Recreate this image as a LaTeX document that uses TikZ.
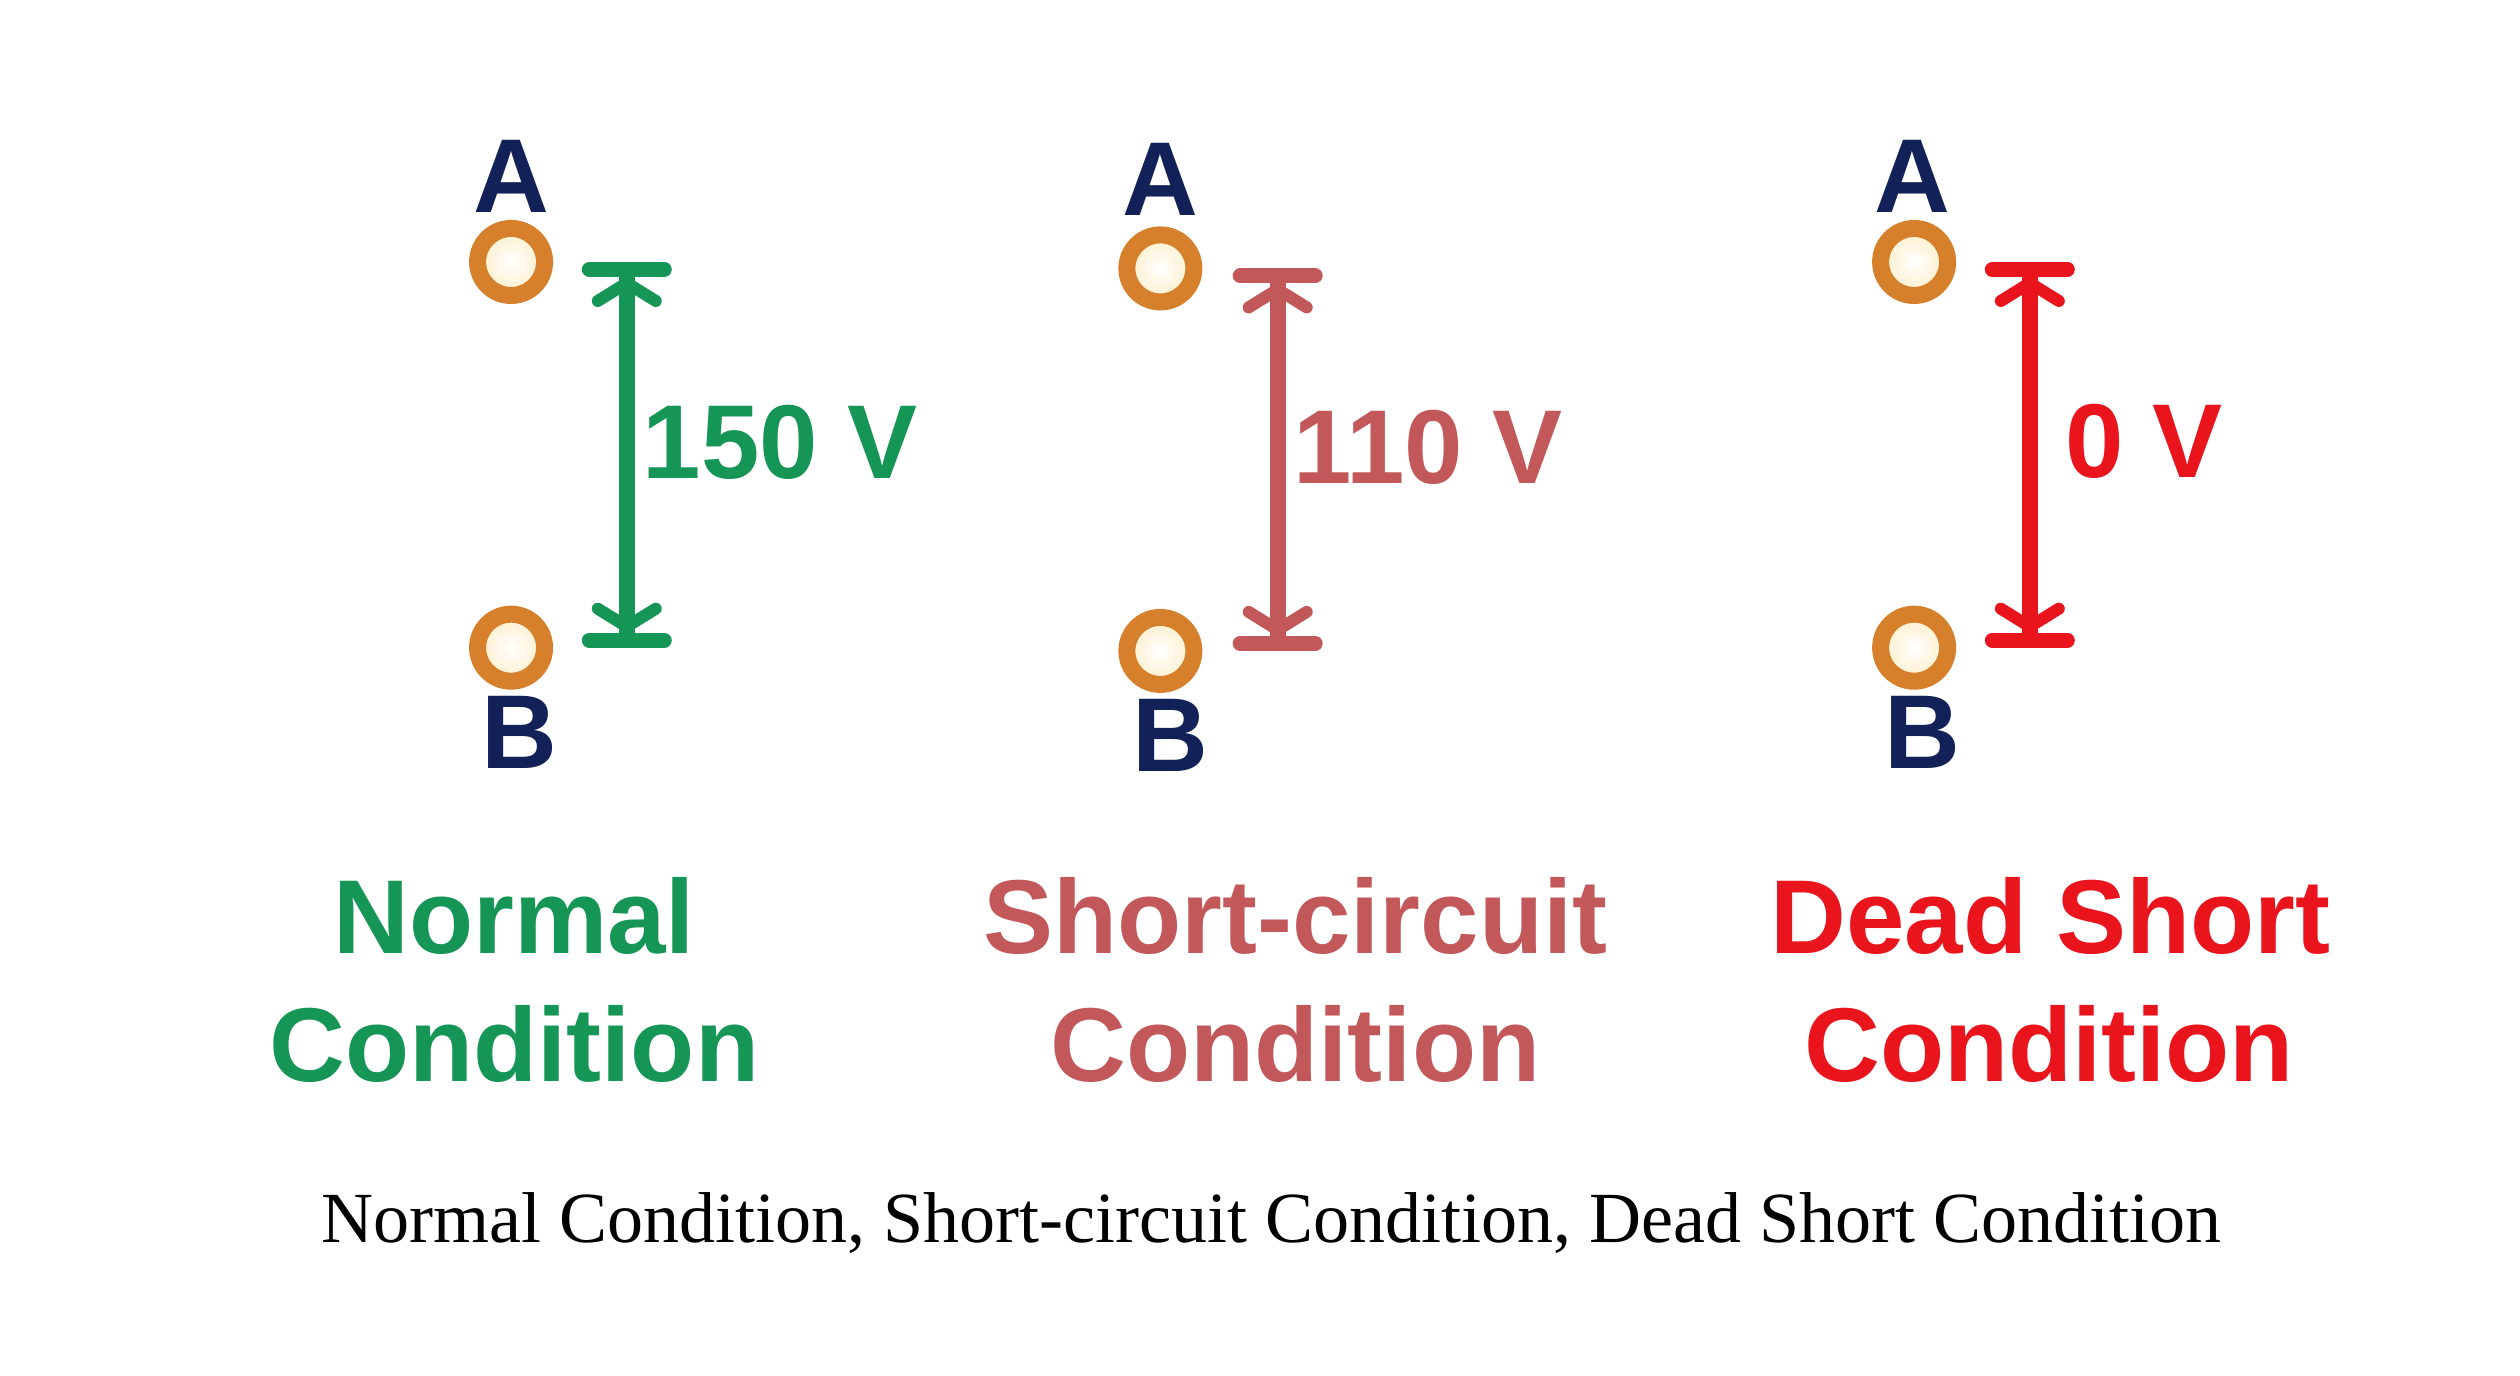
\documentclass[tikz,border=0pt]{standalone}
\usepackage{fontspec}
\setmainfont{Liberation Serif}
\newfontfamily\sansfam{Liberation Sans}
\usetikzlibrary{arrows.meta,positioning}

\definecolor{pinblue}{RGB}{18,33,88}
\definecolor{termring}{RGB}{214,128,44}
\definecolor{termglow}{RGB}{255,238,200}
\definecolor{normalgreen}{RGB}{22,150,86}
\definecolor{shortred}{RGB}{194,88,90}
\definecolor{deadred}{RGB}{234,20,28}

\newcommand{\lblfont}{\sansfam\bfseries\fontsize{105}{126}\selectfont}

\tikzset{
  bartip/.tip={Bar[width=75pt,line width=15pt,round]},
  barbtip/.tip={Straight Barb[length=18pt,width=58pt,line width=12pt,round]}
}

\begin{document}
\begin{tikzpicture}[x=1.6071pt, y=-1.6071pt,
    every node/.style={inner sep=0pt, outer sep=0pt},
    term/.style={circle, draw=termring, line width=17pt, minimum size=67pt,
      shade, shading=radial, inner color=white, outer color=termglow},
    pin/.style={font=\lblfont, text=pinblue, anchor=base},
    volt/.style={line width=16pt, arrows={bartip[]barbtip[]}-{barbtip[]bartip[]}},
    val/.style={font=\lblfont, anchor=base west},
    cond/.style={font=\lblfont, anchor=base}]

  \path[use as bounding box, fill=white] (0,0) rectangle (1568,856);

  % Normal condition (left)
  \node[pin] (a1) at (318,132) {A};
  \node[term] (ta1) at (318,163) {};
  \node[term] (tb1) at (318,403) {};
  \node[pin] (b1) at (323,478) {B};
  \coordinate (p1) at (390,163);
  \coordinate (q1) at (390,403);
  \draw[volt, normalgreen] (p1) -- (q1);
  \node[val, text=normalgreen] (v1) at (400,298) {150 V};
  \node[cond, text=normalgreen] (n1) at (320,593) {Normal};
  \node[cond, text=normalgreen] (c1) at (320,673) {Condition};

  % Short-circuit condition (middle)
  \node[pin] (a2) at (722,134) {A};
  \node[term] (ta2) at (722,167) {};
  \node[term] (tb2) at (722,405) {};
  \node[pin] (b2) at (728,480) {B};
  \coordinate (p2) at (795,167);
  \coordinate (q2) at (795,405);
  \draw[volt, shortred] (p2) -- (q2);
  \node[val, text=shortred] (v2) at (805,301) {110 V};
  \node[cond, text=shortred] (n2) at (806,593) {Short-circuit};
  \node[cond, text=shortred] (c2) at (806,673) {Condition};

  % Dead short condition (right)
  \node[pin] (a3) at (1190,132) {A};
  \node[term] (ta3) at (1191,163) {};
  \node[term] (tb3) at (1191,403) {};
  \node[pin] (b3) at (1196,478) {B};
  \coordinate (p3) at (1263,163);
  \coordinate (q3) at (1263,403);
  \draw[volt, deadred] (p3) -- (q3);
  \node[val, text=deadred] (v3) at (1285,297) {0 V};
  \node[cond, text=deadred] (n3) at (1276,593) {Dead Short};
  \node[cond, text=deadred] (c3) at (1275,673) {Condition};

  % caption
  \node[anchor=base, font=\fontsize{72}{86}\selectfont] (cap) at (791,773)
    {Normal Condition, Short-circuit Condition, Dead Short Condition};
\end{tikzpicture}
\end{document}
